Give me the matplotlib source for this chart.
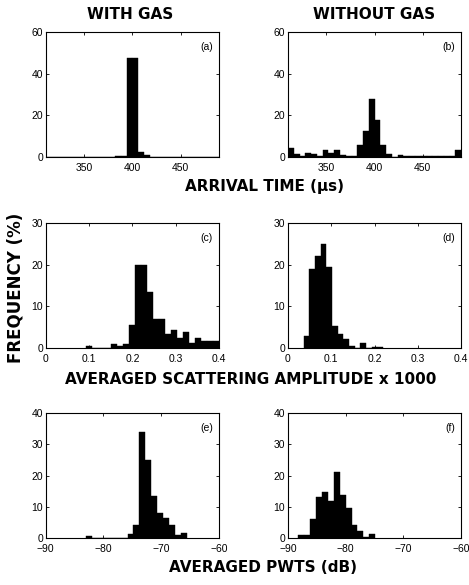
import numpy as np
import matplotlib
matplotlib.use('Agg')
import matplotlib.pyplot as plt

# histogram bins (left edge, right edge, number of bins) and bar heights in %
arrival_bins = (310, 490, 30)
arrival_gas = [0, 0, 0, 0, 0, 0, 0, 0, 0, 0, 0, 0, 0.5, 0.5, 47.5, 47.5, 2.5, 1.1,
               0.2, 0.1, 0, 0, 0, 0, 0, 0, 0, 0, 0, 0]
arrival_nogas = [4.5, 1.5, 0.4, 2, 1.5, 0.4, 3.2, 2, 3.3, 1, 0.5, 0.5, 6, 12.5,
                 28, 18, 6, 1.5, 0.1, 1, 0.5, 0.5, 0.3, 0.3, 0.5, 0.3, 0.3, 0.3, 0.5, 3.5]

amp_gas_bins = (0.094, 0.400, 22)
amp_gas = [0.6, 0, 0, 0, 1, 0.6, 1, 5.5, 20, 20, 13.5, 7, 7, 3.3, 4.4, 2.3, 3.8,
           1.2, 2.3, 1.7, 1.7, 1.7]
amp_nogas_bins = (0.036, 0.2194, 14)
amp_nogas = [2.8, 19, 22, 25, 19.5, 5.4, 3.4, 2.2, 0.6, 0, 1.2, 0, 0.2, 0.2]

pwts_gas_bins = (-83.0, -65.6, 17)
pwts_gas = [0.5, 0, 0, 0, 0, 0, 0, 1.4, 4.3, 34, 25, 13.5, 8, 6.5, 4.3, 0.9, 1.6]
pwts_nogas_bins = (-88.2, -74.9, 13)
pwts_nogas = [1, 1, 6, 13, 14.8, 12, 21, 13.7, 9.5, 4.1, 2.2, 0.4, 1.2]

panels = [
    ('(a)', arrival_bins, arrival_gas, (310, 490), [350, 400, 450], (0, 60), [0, 20, 40, 60]),
    ('(b)', arrival_bins, arrival_nogas, (310, 490), [350, 400, 450], (0, 60), [0, 20, 40, 60]),
    ('(c)', amp_gas_bins, amp_gas, (0, 0.4), [0, 0.1, 0.2, 0.3, 0.4], (0, 30), [0, 10, 20, 30]),
    ('(d)', amp_nogas_bins, amp_nogas, (0, 0.4), [0, 0.1, 0.2, 0.3, 0.4], (0, 30), [0, 10, 20, 30]),
    ('(e)', pwts_gas_bins, pwts_gas, (-90, -60), [-90, -80, -70, -60], (0, 40), [0, 10, 20, 30, 40]),
    ('(f)', pwts_nogas_bins, pwts_nogas, (-90, -60), [-90, -80, -70, -60], (0, 40), [0, 10, 20, 30, 40]),
]

tick_font = 'Liberation Sans'
bold = dict(family='DejaVu Sans', fontweight='bold')

fig = plt.figure(figsize=(4.69, 5.85), dpi=100)

lefts = [0.0975, 0.614]
bottoms = [0.7316, 0.4051, 0.0803]
w, h = 0.3695, 0.2137

for i, (lab, bins, heights, xlim, xt, ylim, yt) in enumerate(panels):
    ax = fig.add_axes([lefts[i % 2], bottoms[i // 2], w, h])
    edges = np.linspace(bins[0], bins[1], bins[2] + 1)
    ax.bar(edges[:-1], heights, width=np.diff(edges), align='edge',
           color='black', edgecolor='black', linewidth=0.3)
    ax.set_xlim(xlim)
    ax.set_ylim(ylim)
    ax.set_xticks(xt)
    ax.set_yticks(yt)
    ax.set_xticklabels([('%g' % v).replace('-', '\u2212') for v in xt],
                       fontsize=7.5, family=tick_font)
    ax.set_yticklabels(['%g' % v for v in yt], fontsize=7.5, family=tick_font)
    ax.tick_params(direction='in', length=2.5, width=0.6, top=True, right=True)
    ax.tick_params(axis='x', pad=4)
    ax.tick_params(axis='y', pad=2)
    for s in ax.spines.values():
        s.set_linewidth(0.8)
    ax.text(0.965, 0.92, lab, transform=ax.transAxes, ha='right', va='top',
            fontsize=7.5, family=tick_font)

fig.text(0.278, 0.976, 'WITH GAS', ha='center', va='center', fontsize=11, **bold)
fig.text(0.797, 0.976, 'WITHOUT GAS', ha='center', va='center', fontsize=11, **bold)
fig.text(0.563, 1 - 186 / 585, 'ARRIVAL TIME (\u03bcs)', ha='center', va='center',
         fontsize=11, **bold)
fig.text(0.535, 1 - 379 / 585, 'AVERAGED SCATTERING AMPLITUDE x 1000', ha='center',
         va='center', fontsize=11, **bold)
fig.text(0.561, 1 - 568 / 585, 'AVERAGED PWTS (dB)', ha='center', va='center',
         fontsize=11, **bold)
fig.text(16 / 469, 1 - 288 / 585, 'FREQUENCY (%)', ha='center', va='center',
         rotation=90, fontsize=12, **bold)

fig.savefig('out.png', dpi=100)
